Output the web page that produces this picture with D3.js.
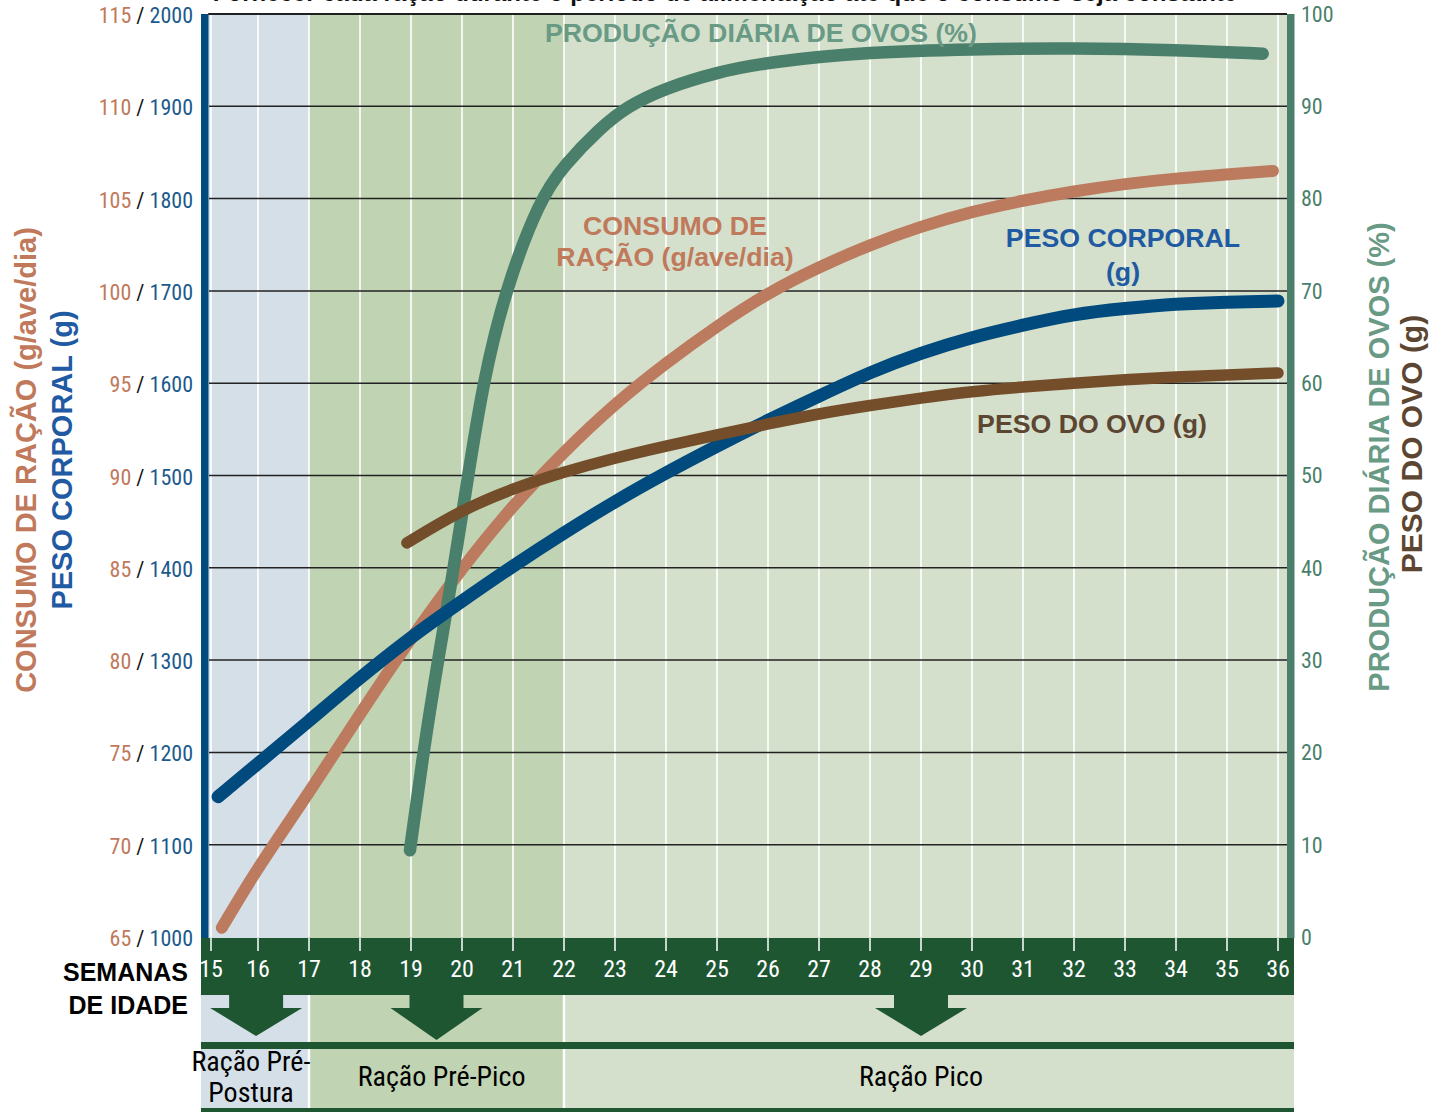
<!DOCTYPE html>
<html><head><meta charset="utf-8">
<script src="https://cdn.jsdelivr.net/npm/d3@7"></script>
<style>body{margin:0;background:#fff} svg{display:block}</style>
</head><body>
<svg id="chart" width="1443" height="1112"></svg>
<script>
// ---------- DATA ----------
const weekTicks = d3.range(15, 37);
const feedTicks = [65, 70, 75, 80, 85, 90, 95, 100, 105, 110, 115];
const bodyTicks = [1000, 1100, 1200, 1300, 1400, 1500, 1600, 1700, 1800, 1900, 2000];
const pctTicks = [0, 10, 20, 30, 40, 50, 60, 70, 80, 90, 100];

// Consumo de ração (g/ave/dia)
const feedWeeks = [15.23, 16, 17, 18, 19, 20, 21, 22, 23, 24, 25, 26, 27, 28, 29, 30, 31, 32, 33, 34, 35, 35.9];
const feedValues = [65.5, 68.8, 72.8, 77.1, 81.2, 85.0, 88.4, 91.3, 93.9, 96.1, 98.1, 99.9, 101.3, 102.5, 103.5, 104.3, 104.9, 105.4, 105.8, 106.1, 106.3, 106.5];

// Peso corporal (g)
const bodyWeeks = [15.15, 16, 17, 18, 19, 20, 21, 22, 23, 24, 25, 26, 27, 28, 29, 30, 31, 32, 33, 34, 35, 36];
const bodyValues = [1152, 1188, 1234, 1281, 1325, 1364, 1402, 1438, 1472, 1503, 1532, 1560, 1586, 1612, 1633, 1650, 1663, 1675, 1681, 1686, 1688, 1689];

// Produção diária de ovos (%)
const prodWeeks = [18.98, 19.24, 19.53, 19.84, 20.12, 20.41, 20.84, 21.53, 22, 22.7, 23.24, 24, 25, 26, 28, 30, 32, 34, 35.7];
const prodValues = [9.4, 20, 30, 40, 50, 60, 70, 80, 83.6, 87.6, 90, 92, 93.7, 94.8, 95.9, 96.2, 96.3, 96.1, 95.7];

// Peso do ovo (g)
const eggWeeks = [18.92, 20, 21, 22, 23, 24, 25, 26, 27, 28, 29, 30, 31, 32, 33, 34, 35, 36];
const eggValues = [42.7, 46.3, 48.6, 50.4, 51.9, 53.2, 54.4, 55.6, 56.7, 57.6, 58.4, 59.1, 59.6, 60.0, 60.4, 60.7, 60.9, 61.1];

// Fases de ração
const phaseNames = [["Ração Pré-", "Postura"], ["Ração Pré-Pico"], ["Ração Pico"]];
const phaseStart = [14.8, 17, 22];
const phaseEnd = [17, 22, 36.3];
const phaseArrowWeek = [15.96, 19.5, 29];
const phaseLabelWeek = [15.85, 19.6, 29];

// ---------- STYLE ----------
const C = {
  feed: "#bc7a5e", body: "#004a7e", prod: "#4a7f6b", egg: "#744d2a",
  feedTxt: "#c0795b", bodyTxt: "#1f5aa2", prodTxt: "#699a85", eggTxt: "#5d4631",
  dark: "#1e5632", blueBg: "#d5dfe8", greenBg: "#c0d3b2", lightBg: "#d4e0cb"
};
const NARROW = "'Liberation Sans Narrow','Arial Narrow','Roboto Condensed',sans-serif";
const BOLD = "'Liberation Sans',Arial,Helvetica,sans-serif";

const svg = d3.select("#chart");
const pTop = 14, pBottom = 937, plotL = 201, plotR = 1294;

const x = d3.scaleLinear().domain([14.8, 15, 16, 36, 36.3]).range([201, 211, 258, 1278, 1294]);
const yFeed = d3.scaleLinear().domain([65, 115]).range([pBottom, pTop]);
const yBody = d3.scaleLinear().domain([1000, 2000]).range([pBottom, pTop]);
const yPct = d3.scaleLinear().domain([0, 100]).range([pBottom, pTop]);

// Top (cut) title
svg.append("text").attr("x", 725).attr("y", 1).attr("text-anchor", "middle")
  .attr("font-family", BOLD).attr("font-weight", "bold").attr("font-size", 24).attr("fill", "#111")
  .text("Fornecer cada ração durante o período de alimentação até que o consumo seja constante");

// Background phase bands (plot + lower area)
const bgColors = [C.blueBg, C.greenBg, C.lightBg];
phaseStart.forEach((s, i) => {
  svg.append("rect").attr("x", x(s)).attr("y", pTop).attr("width", x(phaseEnd[i]) - x(s))
    .attr("height", 1108 - pTop).attr("fill", bgColors[i]);
});

// vertical white gridlines
svg.append("g").selectAll("line").data(weekTicks).join("line")
  .attr("x1", d => x(d)).attr("x2", d => x(d)).attr("y1", pTop).attr("y2", pBottom)
  .attr("stroke", "#fff").attr("stroke-width", 1.6);

// horizontal black gridlines
svg.append("g").selectAll("line").data(pctTicks.slice(1)).join("line")
  .attr("x1", 209).attr("x2", 1287).attr("y1", d => yPct(d)).attr("y2", d => yPct(d))
  .attr("stroke", "#222").attr("stroke-width", 1.5);

// lines
const mk = (ws, vs, ys) => d3.line().curve(d3.curveBasis)(ws.map((w, i) => [x(w), ys(vs[i])]));
const series = [
  {w: feedWeeks, v: feedValues, y: yFeed, c: C.feed, sw: 12},
  {w: prodWeeks, v: prodValues, y: yPct, c: C.prod, sw: 12.5},
  {w: bodyWeeks, v: bodyValues, y: yBody, c: C.body, sw: 13},
  {w: eggWeeks, v: eggValues, y: yPct, c: C.egg, sw: 11.5}
];
series.forEach(s => {
  svg.append("path").attr("d", mk(s.w, s.v, s.y)).attr("fill", "none")
    .attr("stroke", s.c).attr("stroke-width", s.sw).attr("stroke-linecap", "round").attr("stroke-linejoin", "round");
});

// axis bars
svg.append("rect").attr("x", 201).attr("y", pTop).attr("width", 7.5).attr("height", pBottom - pTop + 1).attr("fill", C.body);
svg.append("rect").attr("x", 1287).attr("y", pTop).attr("width", 7.5).attr("height", pBottom - pTop + 1).attr("fill", C.prod);
svg.append("line").attr("x1", 208).attr("x2", 1287).attr("y1", pTop).attr("y2", pTop).attr("stroke", "#111").attr("stroke-width", 1.6);

// left tick labels
const lt = svg.append("g");
feedTicks.forEach((f, i) => {
  const t = lt.append("text").attr("x", 193).attr("y", yFeed(f) + 3).attr("text-anchor", "end")
    .attr("dominant-baseline", "middle").attr("font-family", NARROW).attr("font-size", 22);
  t.append("tspan").attr("fill", C.feedTxt).text(f);
  t.append("tspan").attr("fill", "#111").text(" / ");
  t.append("tspan").attr("fill", "#1b5a8c").text(bodyTicks[i]);
});

// right tick labels
svg.append("g").selectAll("text").data(pctTicks).join("text")
  .attr("x", 1301).attr("y", d => yPct(d) + 2).attr("dominant-baseline", "middle")
  .attr("font-family", NARROW).attr("font-size", 22).attr("fill", C.prod).text(d => d);

// bottom dark band with week ticks
svg.append("rect").attr("x", plotL).attr("y", 938).attr("width", plotR - plotL).attr("height", 57).attr("fill", C.dark);
svg.append("g").selectAll("line").data(weekTicks).join("line")
  .attr("x1", d => x(d)).attr("x2", d => x(d)).attr("y1", 938).attr("y2", 951)
  .attr("stroke", "#fff").attr("stroke-width", 1.5);
svg.append("g").selectAll("text").data(weekTicks).join("text")
  .attr("x", d => x(d)).attr("y", 971).attr("text-anchor", "middle").attr("dominant-baseline", "middle")
  .attr("font-family", NARROW).attr("font-size", 24).attr("fill", "#fff").text(d => d);

svg.append("text").attr("x", 188).attr("y", 981).attr("text-anchor", "end")
  .attr("font-family", BOLD).attr("font-weight", "bold").attr("font-size", 25).attr("fill", "#000").text("SEMANAS");
svg.append("text").attr("x", 188).attr("y", 1014).attr("text-anchor", "end")
  .attr("font-family", BOLD).attr("font-weight", "bold").attr("font-size", 25).attr("fill", "#000").text("DE IDADE");

// phase separators in lower area
[17, 22].forEach(w => {
  svg.append("line").attr("x1", x(w)).attr("x2", x(w)).attr("y1", 995).attr("y2", 1108)
    .attr("stroke", "#fff").attr("stroke-width", 2.5);
});

// arrows
phaseArrowWeek.forEach((w, i) => {
  const cx = x(w), tip = i === 1 ? 1040 : 1036;
  svg.append("path").attr("fill", C.dark)
    .attr("d", `M${cx-27},994 L${cx+27},994 L${cx+27},1008 L${cx+46},1008 L${cx},${tip} L${cx-46},1008 L${cx-27},1008 Z`);
});

// dark lines
svg.append("rect").attr("x", plotL).attr("y", 1042).attr("width", plotR - plotL).attr("height", 7).attr("fill", C.dark);
svg.append("rect").attr("x", plotL).attr("y", 1108).attr("width", plotR - plotL).attr("height", 4).attr("fill", C.dark);

// phase labels
phaseNames.forEach((lines, i) => {
  const t = svg.append("text").attr("x", x(phaseLabelWeek[i])).attr("text-anchor", "middle")
    .attr("font-family", NARROW).attr("font-size", 28).attr("fill", "#000");
  if (lines.length === 2) {
    t.append("tspan").attr("x", x(phaseLabelWeek[i])).attr("y", 1071).text(lines[0]);
    t.append("tspan").attr("x", x(phaseLabelWeek[i])).attr("y", 1102).text(lines[1]);
  } else {
    t.attr("y", 1086).text(lines[0]);
  }
});

// in-plot labels
function lbl(txt, px, py, color, size, font) {
  svg.append("text").attr("x", px).attr("y", py).attr("text-anchor", "middle")
    .attr("font-family", font || BOLD).attr("font-weight", "bold").attr("font-size", size).attr("fill", color).text(txt);
}
lbl("PRODUÇÃO DIÁRIA DE OVOS (%)", 761, 42, C.prodTxt, 26.7);
lbl("CONSUMO DE", 675, 235, C.feedTxt, 26.7);
lbl("RAÇÃO (g/ave/dia)", 675, 266, C.feedTxt, 26.7);
lbl("PESO CORPORAL", 1123, 247, C.bodyTxt, 26.7);
lbl("(g)", 1123, 281, C.bodyTxt, 26.7);
lbl("PESO DO OVO (g)", 1092, 433, C.eggTxt, 26.7);

// rotated axis titles
function vlbl(txt, px, py, color, size) {
  svg.append("text").attr("transform", `translate(${px},${py}) rotate(-90)`).attr("text-anchor", "middle")
    .attr("font-family", BOLD).attr("font-weight", "bold").attr("font-size", size).attr("fill", color).text(txt);
}
vlbl("CONSUMO DE RAÇÃO (g/ave/dia)", 36, 460, C.feedTxt, 29);
vlbl("PESO CORPORAL (g)", 72, 460, C.bodyTxt, 29);
vlbl("PRODUÇÃO DIÁRIA DE OVOS (%)", 1389, 457, C.prodTxt, 29);
vlbl("PESO DO OVO (g)", 1422, 444, C.eggTxt, 30);
</script>
</body></html>
